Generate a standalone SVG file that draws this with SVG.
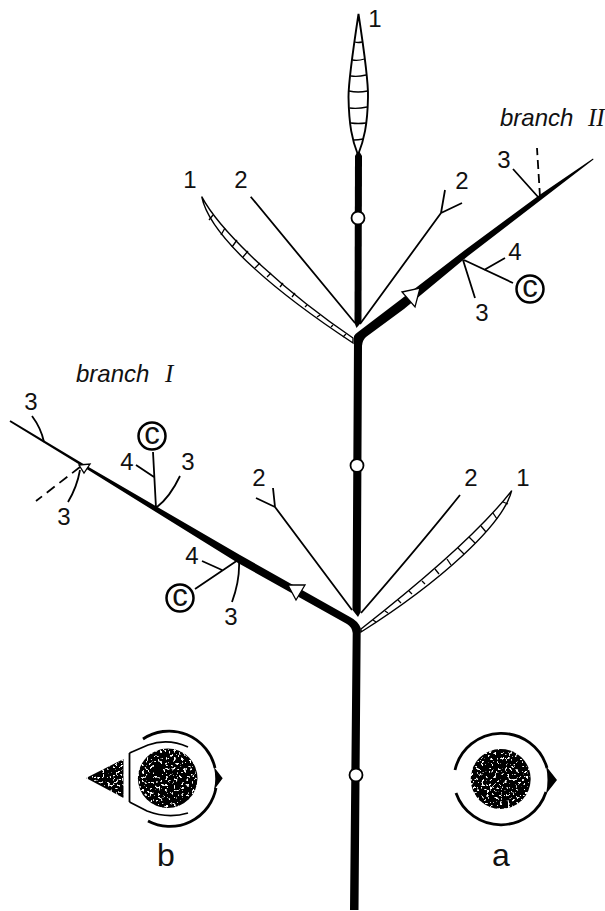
<svg xmlns="http://www.w3.org/2000/svg" width="605" height="911" viewBox="0 0 605 911">
<style>
text{font-family:"Liberation Sans",Arial,sans-serif;font-size:24px;fill:#111;text-anchor:middle}
.it{font-style:italic;font-size:24px;text-anchor:start}
.rn{font-family:"Liberation Serif","Times New Roman",serif;font-style:italic;font-size:25px;text-anchor:start}
.big{font-size:32px}
.cc{font-size:31px}
.l{fill:none;stroke:#000;stroke-width:1.8}
.t{fill:none;stroke:#000;stroke-width:1.3}
.k{fill:#000;stroke:none}
.w{fill:#fff;stroke:#000;stroke-width:1.3}
.n{fill:#fff;stroke:#000;stroke-width:1.800}
.c{fill:#fff;stroke:#000;stroke-width:2.500}
.a{fill:none;stroke:#000;stroke-width:2.800}
.i{fill:none;stroke:#000;stroke-width:1.800}
.leaf{fill:#fff;stroke:#000;stroke-width:1.400}
</style>
<defs>
<filter id="sp" x="0" y="0" width="1" height="1">
<feTurbulence type="fractalNoise" baseFrequency="0.38" numOctaves="2" seed="7" result="n"/>
<feColorMatrix in="n" type="matrix" values="0 0 0 0 1 0 0 0 0 1 0 0 0 0 1 0 11 0 0 -6.700" result="m"/>
<feComposite in="m" in2="SourceAlpha" operator="in" result="s"/>
<feMerge><feMergeNode in="SourceGraphic"/><feMergeNode in="s"/></feMerge>
</filter>
</defs>
<g id="connectors">
<path class="k" d="M355 156L358.500 150L362 156L361.500 322L356.500 328L354.500 323Z"/>
<path class="k" d="M352.500 610L354 340L354 336Q355 334 358 332L400 300L465 250L539.500 195L593 158.500L593.500 159.500L541.500 199.500L468 256L404 309L366 337Q362.500 340 362 346L360.700 612L358 617Z"/>
<path class="k" d="M10.500 420.200L86 465.500L240 555L350 617Q358 621 360.700 628L358.500 910L350 910L352.700 633Q352 627 347 624L238 563L85 468L9.500 421.800Z"/>
<path class="l" d="M250.700 196.700L355 323M360 324L441 213M441 213L445 190M441 213L462 203"/>
<path class="l" d="M352 610L275 507M275 507L273 488M275 507L256 498M361 613Q420 545 460 495"/>
<path class="l" d="M539 198L513 169M464 260L513 283M484 270L505 258M463 260L475 298"/>
<path class="l" d="M540 197L537 148" stroke-dasharray="9 5"/>
<path class="l" d="M32 416Q41 428 44 442M80 470Q77 487 68 502"/>
<path class="l" d="M80 467L36 501" stroke-dasharray="10 6"/>
<path class="l" d="M153 452L156 508M136 465L154 477M180 476Q170 497 157 507M195 589L238 560M202 561L222 570M232 602Q240 580 239 561"/>
<polygon class="w" points="402,292 420,288 415,307"/>
<polygon class="w" points="288,585 305,585 296,600"/>
<polygon class="w" points="79,465 90,464 84,473"/>
</g>
<g id="nodes-stem">
<circle id="node-1" class="n" cx="358" cy="218" r="6.500"/>
<circle id="node-2" class="n" cx="357" cy="465.500" r="6.500"/>
<circle id="node-3" class="n" cx="356" cy="775" r="6.500"/>
</g>
<g id="leaf-top">
<path d="M358.500 14C353 50 348.500 80 348.500 97C349 125 352 140 358 155C364 140 367.500 125 368 97C368.500 80 364 50 358.500 14Z" fill="#fff" stroke="#000" stroke-width="1.900"/>
<path class="t" d="M355 42Q358 43 362 42M352.500 60Q358 61 364.500 59M351 76Q358 77 366 75M349 91Q358 93 367.500 91M349.500 108Q358 109 367 107M351 123Q358 124 366 123M354 140Q358 140 363 139"/>
</g>
<g id="leaf-left">
<path class="leaf" d="M201.700 196.700C222 235 292 297 353 338L353 343C280 295 210 238 201.700 196.700Z"/>
<path class="t" d="M213 215L209 220M225 228L221 235M237 240L232 247M248 251L243 257M260 263L255 268M271 273L267 277M283 283L280 287M295 293L292 297M307 305L305 307M320 315L317 317M333 325L331 327M346 334L343 337"/>
</g>
<g id="leaf-right">
<path class="leaf" d="M511.700 490.700C485 525 430 575 361 629L361 632C440 582 503 525 511.700 490.700Z"/>
<path class="t" d="M503 502L508 504M493 513L497 519M481 526L486 532M469 537L475 543M458 548L464 554M447 559L451 565M435 569L439 574M422 581L425 584M409 591L412 594M398 600L401 603M385 611L388 613M373 620L376 622"/>
</g>
<g id="cross-section-b">
<circle class="k" cx="167.700" cy="778.300" r="29.800" filter="url(#sp)"/>
<polygon class="k" points="86,778 123.500,759 123.500,798" filter="url(#sp)"/>
<path class="i" d="M129.500 753L129.500 802"/>
<path class="i" d="M129.500 753L148 745Q168 738 188 747M129.500 802L147 811Q168 819 188 813"/>
<path class="a" d="M143 739A47 47 0 0 1 215 768M216 788A47 47 0 0 1 148 821"/>
<path class="k" d="M214 767L222.700 778.300L214 790Q216.500 779 214 767Z"/>
</g>
<g id="cross-section-a">
<circle class="k" cx="500.700" cy="779" r="30" filter="url(#sp)"/>
<path class="a" d="M455 770A47.500 47.500 0 0 1 547 768M546 792A47.500 47.500 0 0 1 456 793"/>
<path class="k" d="M546 766L557 780L546 794Q549 780 546 766Z"/>
</g>
<g id="c-markers">
<g id="c1"><circle class="c" cx="530" cy="289" r="13.500"/><text class="cc" x="530" y="297">c</text></g>
<g id="c2"><circle class="c" cx="152" cy="436" r="13.500"/><text class="cc" x="152" y="444">c</text></g>
<g id="c3"><circle class="c" cx="180" cy="598" r="13.500"/><text class="cc" x="180" y="606">c</text></g>
</g>
<g id="labels">
<text x="375" y="27">1</text>
<text x="190" y="188">1</text>
<text x="241" y="188">2</text>
<text x="462" y="189">2</text>
<text x="504" y="168">3</text>
<text x="515" y="260">4</text>
<text x="482" y="321">3</text>
<text x="31" y="410">3</text>
<text x="127" y="470">4</text>
<text x="188" y="470">3</text>
<text x="64" y="525">3</text>
<text x="192" y="564">4</text>
<text x="231" y="625">3</text>
<text x="259" y="486">2</text>
<text x="471" y="486">2</text>
<text x="523" y="486">1</text>
<text class="big" x="166" y="866">b</text>
<text class="big" x="501" y="866">a</text>
<text class="it" x="500" y="126">branch</text>
<text class="rn" x="588" y="126">II</text>
<text class="it" x="76" y="382">branch</text>
<text class="rn" x="165" y="382">I</text>
</g>
</svg>
